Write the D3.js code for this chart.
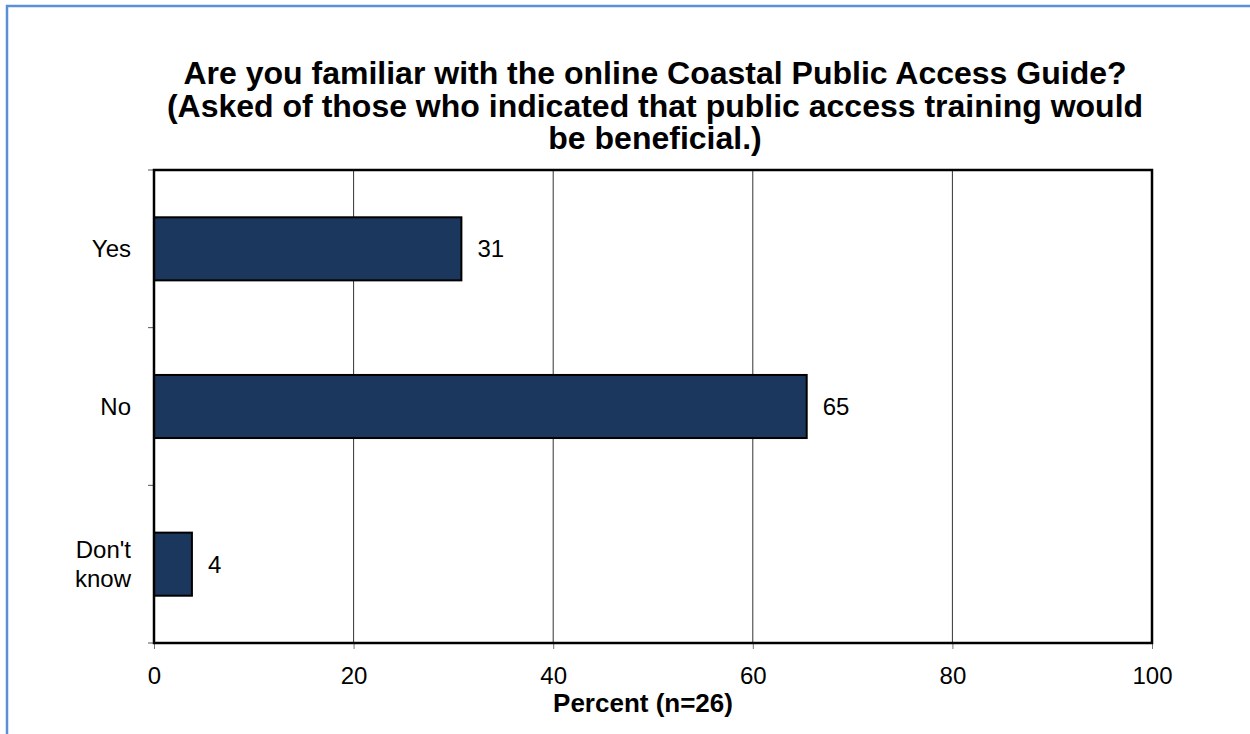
<!DOCTYPE html>
<html><head><meta charset="utf-8">
<script src="https://cdn.jsdelivr.net/npm/d3@7"></script>
<style>body{margin:0;background:#fff}svg{display:block}text{font-family:"Liberation Sans",Arial,sans-serif}</style>
</head><body><svg id="c" width="1250" height="734"></svg>
<script>
const categories = ["Yes", "No", "Don't know"];
const values = [30.8, 65.4, 3.8];
const valueLabels = ["31", "65", "4"];
const xTicks = [0, 20, 40, 60, 80, 100];
const titleLines = ["Are you familiar with the online Coastal Public Access Guide?",
  "(Asked of those who indicated that public access training would",
  "be beneficial.)"];
const xTitle = "Percent (n=26)";

const svg = d3.select("#c");
const m = {l:154, t:170, r:1152, b:643};
// frame
svg.append("path").attr("d","M7,734 V6 H1250").attr("fill","none").attr("stroke","#5b8fd8").attr("stroke-width",2.5);

const x = d3.scaleLinear().domain([0,100]).range([m.l,m.r]);
const y = d3.scaleBand().domain(categories).range([m.t,m.b]).paddingInner(0.6).paddingOuter(0.3);

// gridlines
svg.append("g").selectAll("line").data(xTicks.slice(1,-1)).join("line")
  .attr("x1",d=>x(d)).attr("x2",d=>x(d)).attr("y1",m.t).attr("y2",m.b)
  .attr("stroke","#333").attr("stroke-width",1);

// x axis
const xa = svg.append("g").attr("transform",`translate(0,${m.b})`)
  .call(d3.axisBottom(x).tickValues(xTicks).tickSize(6).tickSizeOuter(0).tickPadding(0));
xa.select(".domain").remove();
xa.selectAll("line").attr("stroke","#777");
xa.selectAll("text").attr("font-size",24).attr("fill","#000").attr("dy",null).attr("y",41)
  .attr("font-family","Liberation Sans, Arial, sans-serif");

// y ticks at band boundaries
const bounds = [m.t, ...categories.map(c=>y(c)+y.bandwidth()/2+y.step()/2)];
svg.append("g").selectAll("line").data(bounds).join("line")
  .attr("x1",m.l-6).attr("x2",m.l).attr("y1",d=>d).attr("y2",d=>d).attr("stroke","#555");

// bars
svg.append("g").selectAll("rect").data(values).join("rect")
  .attr("x",x(0)).attr("y",(d,i)=>y(categories[i])).attr("width",d=>x(d)-x(0)).attr("height",y.bandwidth())
  .attr("fill","#1b375e").attr("stroke","#000").attr("stroke-width",2);

// value labels
svg.append("g").selectAll("text").data(values).join("text")
  .attr("x",d=>x(d)+16).attr("y",(d,i)=>y(categories[i])+y.bandwidth()/2).attr("dy","0.36em")
  .attr("font-size",24).text((d,i)=>valueLabels[i]);

// category labels
categories.forEach((c,i)=>{
  const words = c === "Don't know" ? ["Don't","know"] : [c];
  const cy = y(c)+y.bandwidth()/2;
  const t = svg.append("text").attr("text-anchor","end").attr("font-size",24);
  words.forEach((w,j)=>{
    t.append("tspan").attr("x",131).attr("y",cy+(j-(words.length-1)/2)*29).attr("dy","0.36em").text(w);
  });
});

// plot border
svg.append("rect").attr("x",m.l).attr("y",m.t).attr("width",m.r-m.l).attr("height",m.b-m.t)
  .attr("fill","none").attr("stroke","#000").attr("stroke-width",2.5);

// title
titleLines.forEach((l,i)=>{
  svg.append("text").attr("x",655).attr("y",84+i*32.5).attr("text-anchor","middle")
    .attr("font-size",32).attr("font-weight","bold").text(l);
});
svg.append("text").attr("x",643).attr("y",712).attr("text-anchor","middle")
  .attr("font-size",26).attr("font-weight","bold").text(xTitle);
</script></body></html>
